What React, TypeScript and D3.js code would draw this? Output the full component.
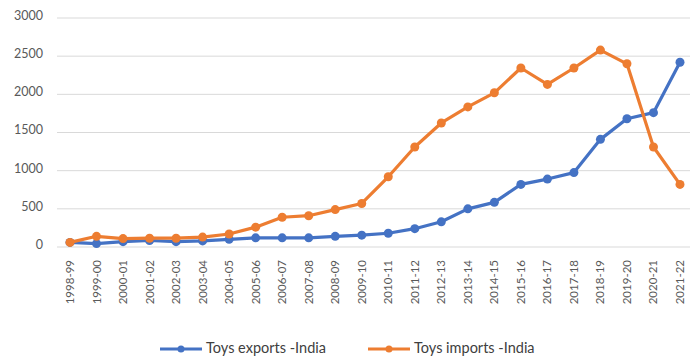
import React from "react";
import * as d3 from "d3";

const categories = ["1998-99","1999-00","2000-01","2001-02","2002-03","2003-04","2004-05","2005-06","2006-07","2007-08","2008-09","2009-10","2010-11","2011-12","2012-13","2013-14","2014-15","2015-16","2016-17","2017-18","2018-19","2019-20","2020-21","2021-22"];
const exportsIndia = [60,45,70,85,70,80,100,120,120,120,140,155,180,240,330,500,585,820,890,975,1410,1680,1760,2420];
const importsIndia = [60,140,110,115,115,130,170,260,390,410,490,570,920,1310,1625,1835,2020,2345,2130,2345,2580,2400,1310,820];
const yTicks = [0,500,1000,1500,2000,2500,3000];
const seriesNames = ["Toys exports -India", "Toys imports -India"];
const colors = ["#4472C4", "#ED7D31"];

export default function App() {
  const W = 690, H = 360;
  const x = d3.scalePoint<string>().domain(categories).range([70, 680]);
  const y = d3.scaleLinear().domain([0, 3000]).range([247, 18]);
  const line = d3.line<number>().x((_, i) => x(categories[i]) as number).y(d => y(d));
  const series = [exportsIndia, importsIndia];
  const font = "Lato, 'Open Sans', sans-serif";
  const legendX = [160, 368];
  return (
    <svg width={W} height={H} style={{ position: "absolute", left: 0, top: 0, background: "#fff" }} fontFamily={font}>
      {yTicks.map(t => (
        <g key={t}>
          <line x1={57} x2={690} y1={y(t)} y2={y(t)} stroke="#d9d9d9" strokeWidth={1} />
          <text x={43} y={y(t)} dy="-0.1em" textAnchor="end" fontSize={12.5} fill="#595959" dominantBaseline="middle">{t}</text>
        </g>
      ))}
      {categories.map(c => (
        <text key={c} transform={`translate(${(x(c) as number) + 4},260) rotate(-90)`} textAnchor="end" fontSize={11.5} fill="#595959">{c}</text>
      ))}
      {series.map((s, si) => (
        <g key={si}>
          <path d={line(s) as string} fill="none" stroke={colors[si]} strokeWidth={3.2} strokeLinejoin="round" />
          {s.map((v, i) => (
            <circle key={i} cx={x(categories[i]) as number} cy={y(v)} r={4.5} fill={colors[si]} />
          ))}
        </g>
      ))}
      {seriesNames.map((n, i) => (
        <g key={n}>
          <line x1={legendX[i]} x2={legendX[i] + 42} y1={349} y2={349} stroke={colors[i]} strokeWidth={3.2} />
          <circle cx={legendX[i] + 21} cy={349} r={3.5} fill={colors[i]} />
          <text x={legendX[i] + 46} y={349} dominantBaseline="middle" fontSize={14.5} fill="#404040">{n}</text>
        </g>
      ))}
    </svg>
  );
}
